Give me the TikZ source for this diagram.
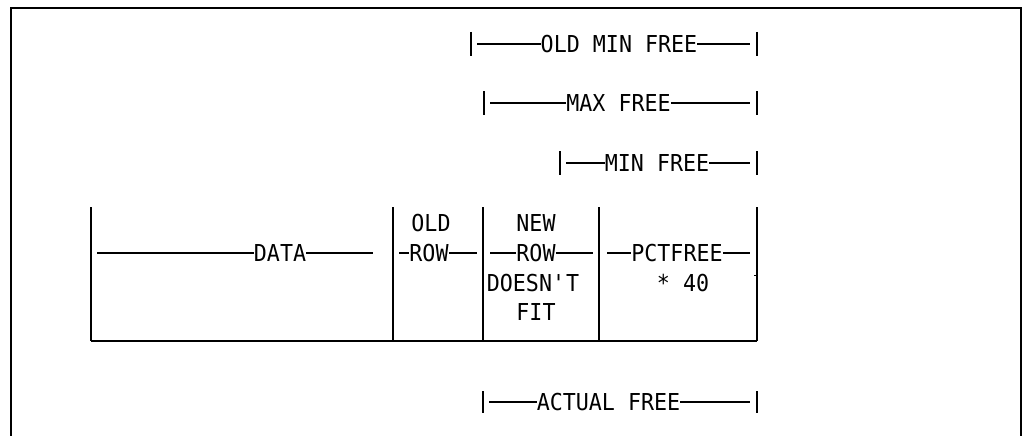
\documentclass[tikz,border=0pt]{standalone}
\usepackage{fontspec}
\newfontfamily\ibmmono[FakeStretch=0.93]{DejaVu Sans Mono}
\begin{document}
\begin{tikzpicture}[x=1pt,y=-1pt,
  lbl/.style={font=\ibmmono\fontsize{23.3}{26}\selectfont, inner sep=0pt, text height=17pt, text depth=0pt},
  rule/.style={line width=1.5pt, line cap=butt},
  framerule/.style={line width=2pt},
  tablerule/.style={line width=1.6pt}]
\useasboundingbox (0,0) rectangle (1030,436);
% frame
\coordinate (fbl) at (11,436);
\coordinate (ftl) at (11,8);
\coordinate (ftr) at (1021,8);
\coordinate (fbr) at (1021,436);
\draw[framerule] (fbl) -- (ftl) -- (ftr) -- (fbr);

% OLD MIN FREE
\node[lbl] (omf) at (619,44) {OLD MIN FREE};
\coordinate (omfL) at (471,44);
\coordinate (omfR) at (757,44);
\draw[rule] ([xshift=6pt]omfL) -- (omf.west);
\draw[rule] (omf.east) -- ([xshift=-7pt]omfR);
\draw[rule] ([yshift=12pt]omfL) -- ([yshift=-12pt]omfL);
\draw[rule] ([yshift=12pt]omfR) -- ([yshift=-12pt]omfR);

% MAX FREE
\node[lbl] (maxf) at (618.5,103) {MAX FREE};
\coordinate (maxL) at (484,103);
\coordinate (maxR) at (757,103);
\draw[rule] ([xshift=6pt]maxL) -- (maxf.west);
\draw[rule] (maxf.east) -- ([xshift=-7pt]maxR);
\draw[rule] ([yshift=12pt]maxL) -- ([yshift=-12pt]maxL);
\draw[rule] ([yshift=12pt]maxR) -- ([yshift=-12pt]maxR);

% MIN FREE
\node[lbl] (minf) at (657,163) {MIN FREE};
\coordinate (minL) at (560,163);
\coordinate (minR) at (757,163);
\draw[rule] ([xshift=6pt]minL) -- (minf.west);
\draw[rule] (minf.east) -- ([xshift=-7pt]minR);
\draw[rule] ([yshift=12pt]minL) -- ([yshift=-12pt]minL);
\draw[rule] ([yshift=12pt]minR) -- ([yshift=-12pt]minR);

% table
\coordinate (t1) at (91,207);  \coordinate (b1) at (91,341);
\coordinate (t2) at (393,207); \coordinate (b2) at (393,341);
\coordinate (t3) at (483,207); \coordinate (b3) at (483,341);
\coordinate (t4) at (599,207); \coordinate (b4) at (599,341);
\coordinate (t5) at (757,207); \coordinate (b5) at (757,341);
\draw[rule] (t1) -- (b1);
\draw[tablerule] (b1) -- (b5);
\draw[rule] (t2) -- (b2);
\draw[rule] (t3) -- (b3);
\draw[rule] (t4) -- (b4);
\draw[rule] (t5) -- (b5);
\coordinate (tick) at (754,275);
\draw[line width=1pt] (tick) -- (t5 |- tick);

% DATA
\node[lbl] (data) at (280,253) {DATA};
\coordinate (dataL) at (97,253);
\coordinate (dataR) at (373,253);
\draw[rule] (dataL) -- (data.west);
\draw[rule] (data.east) -- (dataR);

% OLD ROW
\node[lbl] (old) at (431,223) {OLD};
\node[lbl] (orow) at (429,253) {ROW};
\coordinate (orowL) at (399,253);
\coordinate (orowR) at (477,253);
\draw[rule] (orowL) -- (orow.west);
\draw[rule] (orow.east) -- (orowR);

% NEW ROW DOESN'T FIT
\node[lbl] (new) at (536,223) {NEW};
\node[lbl] (nrow) at (536,253) {ROW};
\node[lbl] (doesnt) at (533,283) {DOESN\textquotesingle T};
\node[lbl] (fit) at (536,312) {FIT};
\coordinate (nrowL) at (490,253);
\coordinate (nrowR) at (593,253);
\draw[rule] (nrowL) -- (nrow.west);
\draw[rule] (nrow.east) -- (nrowR);

% PCTFREE * 40
\node[lbl] (pct) at (677,253) {PCTFREE};
\node[lbl] (forty) at (683,283) {* 40};
\coordinate (pctL) at (607,253);
\coordinate (pctR) at (750,253);
\draw[rule] (pctL) -- (pct.west);
\draw[rule] (pct.east) -- (pctR);

% ACTUAL FREE
\node[lbl] (act) at (608.5,402) {ACTUAL FREE};
\coordinate (actL) at (483,402);
\coordinate (actR) at (757,402);
\draw[rule] ([xshift=6pt]actL) -- (act.west);
\draw[rule] (act.east) -- ([xshift=-7pt]actR);
\draw[rule] ([yshift=11pt]actL) -- ([yshift=-11pt]actL);
\draw[rule] ([yshift=11pt]actR) -- ([yshift=-11pt]actR);
\end{tikzpicture}
\end{document}
